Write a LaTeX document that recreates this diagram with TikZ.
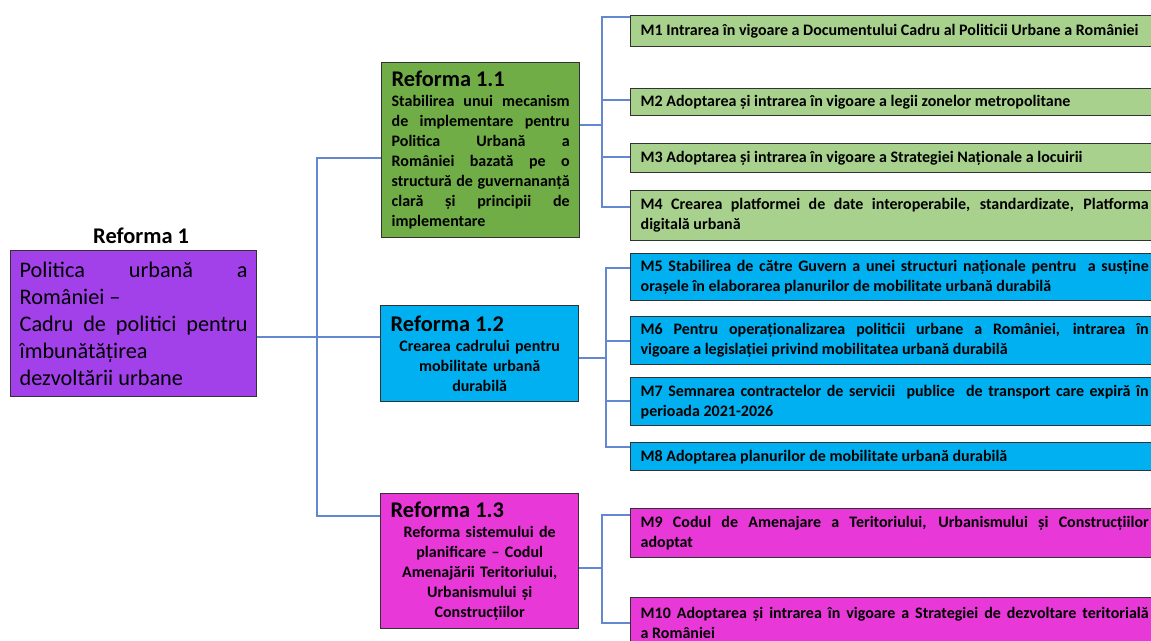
\documentclass[tikz,border=0pt]{standalone}
\usepackage{fontspec}
\setmainfont{Carlito}
\usetikzlibrary{positioning}

\definecolor{boxline}{RGB}{50,50,50}
\definecolor{linkblue}{RGB}{100,135,210}
\definecolor{polviolet}{RGB}{162,64,234}
\definecolor{refgreen}{RGB}{112,173,71}
\definecolor{mgreen}{RGB}{169,209,142}
\definecolor{refblue}{RGB}{0,176,240}
\definecolor{refpink}{RGB}{232,56,216}

\tikzset{
  box/.style={draw=boxline, line width=1pt, inner ysep=0pt, anchor=north west},
  rbox/.style={box, text width=133.5pt, inner xsep=7.5pt, align=justify,
    font=\bfseries\fontsize{12}{15}\selectfont},
  mbox/.style={box, text width=381pt, inner xsep=7.5pt, align=justify,
    font=\bfseries\fontsize{12}{15}\selectfont},
  link/.style={draw=linkblue, line width=0.9pt},
}

\begin{document}
\begin{tikzpicture}[x=0.75pt,y=-0.75pt]
\useasboundingbox (0,0) rectangle (1151,641);
\clip (0,0) rectangle (1151,641);

% Reforma 1
\node[box, fill=polviolet, text width=171pt, inner xsep=6.75pt, minimum height=109.5pt,
  align=justify, font=\fontsize{16.7}{20.25}\selectfont] (pol) at (10,250)
  {Politica urbană a\linebreak României –\\ Cadru de politici pentru\linebreak îmbunătățirea\\ dezvoltării urbane};
\node[font=\bfseries\fontsize{16.8}{19}\selectfont, above=1pt of pol, xshift=5.6pt] (pollbl) {Reforma 1};

% reformele
\node[rbox, fill=refgreen, minimum height=131.25pt] (ref1) at (381,62)
  {{\fontsize{16.8}{19}\selectfont Reforma 1.1}\\ Stabilirea unui mecanism\linebreak de implementare pentru\linebreak Politica Urbană a\linebreak României bazată pe o\linebreak structură de guvernananță\linebreak clară și principii de\linebreak implementare};
\node[rbox, align=center, fill=refblue, minimum height=72pt] (ref2) at (380,305)
  {\makebox[\hsize][l]{\fontsize{16.8}{19}\selectfont Reforma 1.2}\\ Crearea cadrului pentru\\ mobilitate urbană\\ durabilă};
\node[rbox, align=center, fill=refpink, minimum height=101.25pt] (ref3) at (380,493)
  {\makebox[\hsize][l]{\fontsize{16.8}{19}\selectfont Reforma 1.3}\\ Reforma sistemului de\\ planificare – Codul\\ Amenajării Teritoriului,\\ Urbanismului și\\ Construcțiilor};

% masuri
\foreach \n/\top/\h/\col/\txt in {
  1/15/31/mgreen/{\mbox{M1 Intrarea în vigoare a Documentului Cadru al Politicii Urbane a României}},
  2/88/27/mgreen/{M2 Adoptarea și intrarea în vigoare a legii zonelor metropolitane},
  3/143/29/mgreen/{M3 Adoptarea și intrarea în vigoare a Strategiei Naționale a locuirii},
  4/190/50/mgreen/{M4 Crearea platformei de date interoperabile, standardizate, Platforma\linebreak digitală urbană},
  5/253/47/refblue/{M5 Stabilirea de către Guvern a unei structuri naționale pentru ~a susține\linebreak orașele în elaborarea planurilor de mobilitate urbană durabilă},
  6/316/48/refblue/{M6 Pentru operaționalizarea politicii urbane a României, intrarea în\linebreak vigoare a legislației privind mobilitatea urbană durabilă},
  7/377/48/refblue/{M7 Semnarea contractelor de servicii ~publice ~de transport care expiră în\linebreak perioada 2021-2026},
  8/442/28/refblue/{M8 Adoptarea planurilor de mobilitate urbană durabilă},
  9/508/49/refpink/{M9 Codul de Amenajare a Teritoriului, Urbanismului și Construcțiilor\linebreak adoptat},
  10/597/50/refpink/{M10 Adoptarea și intrarea în vigoare a Strategiei de dezvoltare teritorială\linebreak a României}}
  \node[mbox, fill=\col, minimum height=\h*0.75pt] (m\n) at (630,\top) {\txt};

% legaturi
\coordinate (j0) at (317,337);
\draw[link] (pol.east |- j0) -- (ref2.west |- j0);
\draw[link] (j0) |- (ref1.west |- 0,158);
\draw[link] (j0) |- (ref3.west |- 0,516);

\coordinate (j1) at (602,125);
\draw[link] (ref1.east |- j1) -- (j1);
\foreach \n/\t in {1/17, 2/100, 3/157, 4/207}
  \draw[link] (j1) |- (m\n.west |- 0,\t);

\coordinate (j2) at (606,358);
\draw[link] (ref2.east |- j2) -- (j2);
\foreach \n/\t in {5/268, 6/341, 7/401, 8/447}
  \draw[link] (j2) |- (m\n.west |- 0,\t);

\coordinate (j3) at (602,568);
\draw[link] (ref3.east |- j3) -- (j3);
\foreach \n/\t in {9/515, 10/623}
  \draw[link] (j3) |- (m\n.west |- 0,\t);
\end{tikzpicture}
\end{document}
